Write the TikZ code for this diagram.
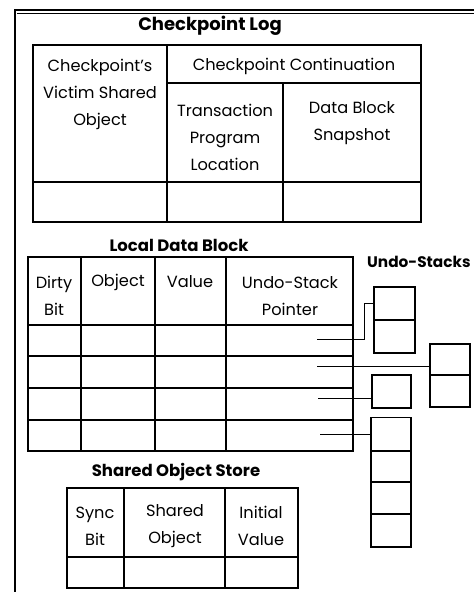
\documentclass[tikz,border=0pt]{standalone}
\usepackage{fontspec}
\setmainfont{Poppins}
\usepackage{tikz}
\usetikzlibrary{positioning, calc}
\tikzstyle{frame} = [line width=2.2pt]
\tikzstyle{grid} = [line width=1.8pt]
\tikzstyle{title} = [font=\bfseries\fontsize{16.5}{18}\selectfont, inner sep=0pt]
\tikzstyle{label} = [font=\fontsize{16.2}{27}\selectfont, align=center, inner sep=0pt]
\tikzstyle{slot} = [draw, line width=1.8pt, minimum width=40pt, minimum height=33pt, inner sep=0pt]
\tikzstyle{ptr} = [line width=0.8pt]

\begin{document}
\begin{tikzpicture}[x=1pt, y=-1pt]
    \useasboundingbox (0,0) rectangle (474,592);

    % outer frame
    \draw[frame] (15,600) |- (490,10);
    \draw[line width=0.7pt] (17,13) -- (490,13);

    % checkpoint log
    \node[title, font=\bfseries\fontsize{18}{20}\selectfont] (cltitle) at (210,26) {Checkpoint Log};
    \draw[grid] (33,45) rectangle (421,222);
    \draw[grid] (167,45) -- (167,222);
    \draw[grid] (167,83) -- (421,83);
    \draw[grid] (283,83) -- (283,222);
    \draw[grid] (33,182) -- (421,182);
    \node[label] (victim) at (100,94) {Checkpoint's\\Victim Shared\\Object};
    \node[label] (cont) at (294,66) {Checkpoint Continuation};
    \node[label] (tpl) at (225,137) {Transaction\\Program\\Location};
    \node[label] (snap) at (352,123) {Data Block\\Snapshot};

    % local data block
    \node[title] (ldbtitle) at (179,245) {Local Data Block};
    \draw[grid] (28,257) rectangle (353,451);
    \foreach \x in {81,155,226}
        \draw[grid] (\x,257) -- (\x,451);
    \foreach \y in {325,356,388,420}
        \draw[grid] (28,\y) -- (353,\y);
    \node[label] (dirty) at (54,296) {Dirty\\Bit};
    \node[label] (obj) at (118,282) {Object};
    \node[label] (val) at (190,282) {Value};
    \node[label] (usp) at (290,296) {Undo-Stack\\Pointer};

    \coordinate (p1) at (317,339);
    \coordinate (p2) at (317,366);
    \coordinate (p3) at (318,398);
    \coordinate (p4) at (320,434);

    % undo-stacks
    \node[title, font=\bfseries\fontsize{15.3}{17}\selectfont, anchor=west] (ustitle) at (367,262) {Undo-Stacks};
    \node[slot, minimum width=41pt] (a1) at (394.5,303.5) {};
    \node[slot, minimum width=41pt] (a2) at (394.5,336.5) {};
    \node[slot, minimum height=31.5pt] (b1) at (450,359.5) {};
    \node[slot, minimum height=31.5pt] (b2) at (450,391) {};
    \node[slot, minimum width=39pt] (c1) at (391.5,391.5) {};
    \node[slot, minimum width=40pt, minimum height=33pt] (d1) at (391,434) {};
    \node[slot, minimum width=40pt, minimum height=31.5pt] (d2) at (391,466.5) {};
    \node[slot, minimum width=40pt, minimum height=32pt] (d3) at (391,498) {};
    \node[slot, minimum width=40pt, minimum height=33pt] (d4) at (391,530.5) {};

    \draw[ptr] (p1) -- (364,339) |- (a1.west);
    \draw[ptr] (p2) -- (p2 -| b1.west);
    \draw[ptr] (p3) -- (p3 -| c1.west);
    \draw[ptr] (p4) -- (p4 -| d1.west);

    % shared object store
    \node[title] (sostitle) at (176,472) {Shared Object Store};
    \draw[grid] (67,488) rectangle (298,588);
    \draw[grid] (124,488) -- (124,588);
    \draw[grid] (225,488) -- (225,588);
    \draw[grid] (67,557) -- (298,557);
    \node[label] (sync) at (95,526) {Sync\\Bit};
    \node[label] (shobj) at (175,526) {Shared\\Object};
    \node[label] (init) at (261,526) {Initial\\Value};
\end{tikzpicture}
\end{document}
